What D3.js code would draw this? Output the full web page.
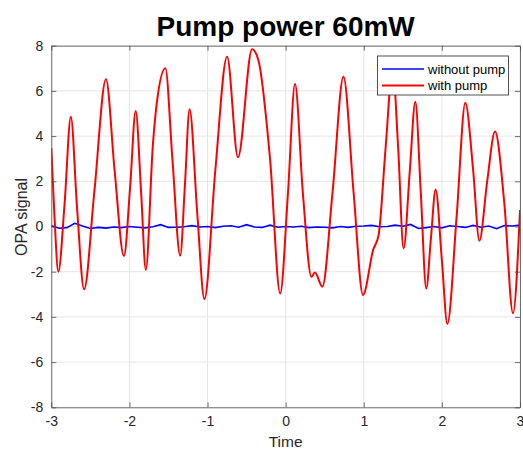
<!DOCTYPE html>
<html>
<head>
<meta charset="utf-8">
<script src="https://cdn.jsdelivr.net/npm/d3@7"></script>
<style>
  body { margin: 0; background: #fff; }
  text { font-family: "Liberation Sans", Arial, sans-serif; }
</style>
</head>
<body>
<script>
// red trace: (time, signal)
const pumpT = [-3.0, -2.96, -2.91, -2.83, -2.75, -2.67, -2.58, -2.45, -2.30, -2.19, -2.07, -1.99, -1.92, -1.85, -1.79,
  -1.70, -1.65, -1.54, -1.45, -1.35, -1.29, -1.23, -1.13, -1.04, -0.90, -0.75, -0.61, -0.43, -0.35, -0.20, -0.07,
  0.03, 0.12, 0.22, 0.33, 0.375, 0.47, 0.60, 0.74, 0.87, 0.99, 1.12, 1.19, 1.28, 1.37, 1.44, 1.51, 1.59, 1.66,
  1.73, 1.80, 1.86, 1.92, 2.00, 2.07, 2.19, 2.30, 2.40, 2.48, 2.58, 2.68, 2.80, 2.91, 3.0];
const pumpY = [3.46, 0.5, -2.0, 1.0, 4.86, 0.8, -2.78, 1.5, 6.51, 2.5, -1.31, 1.8, 5.11, 1.5, -1.92,
  3.6, 5.45, 7.0, 3.0, -1.29, 1.8, 5.19, 0.5, -3.21, 2.5, 7.51, 3.06, 7.84, 7.37, 3.0, -2.96,
  1.5, 6.3, 1.5, -2.22, -2.04, -2.66, 1.5, 6.63, 1.5, -3.03, -1.04, -0.38, 3.5, 7.0, 3.5, -0.97, 2.5, 5.52,
  1.5, -2.74, -0.5, 1.64, -1.5, -4.31, 0.5, 5.48, 2.5, -0.63, 2.0, 4.2, 1.0, -3.84, 0.73];

// blue trace: one value every 0.1 from -3 to 3
const noPumpT = d3.range(61).map(i => -3 + i * 0.1);
const noPumpY = [0.03, -0.08, -0.05, 0.14, 0.02, -0.09, -0.04, -0.07, -0.02, -0.05, 0.0, -0.03, -0.06, -0.01, 0.08,
  -0.04, -0.03, -0.01, 0.04, -0.02, 0.0, -0.05, 0.01, 0.03, -0.03, 0.08, -0.02, -0.04, 0.06, -0.03, 0.0,
  -0.02, 0.01, -0.05, -0.02, -0.03, -0.06, 0.0, -0.04, 0.01, 0.02, 0.05, -0.01, 0.0, 0.06, 0.01, 0.09, -0.09,
  -0.05, 0.0, -0.06, 0.03, 0.0, -0.04, 0.05, -0.03, 0.02, -0.1, 0.04, 0.02, 0.06];

const xTicks = [-3, -2, -1, 0, 1, 2, 3];
const yTicks = [-8, -6, -4, -2, 0, 2, 4, 6, 8];
const seriesNames = ["without pump", "with pump"];
const seriesColors = ["#0000ff", "#ff0000"];

const W = 523, H = 450;
const mLeft = 51.3, mRight = 520, mTop = 45.7, mBottom = 407.3;

const svg = d3.select("body").append("svg")
  .attr("width", W).attr("height", H);

const x = d3.scaleLinear().domain([-3, 3]).range([mLeft, mRight]);
const y = d3.scaleLinear().domain([-8, 8]).range([mBottom, mTop]);

// grid
svg.append("g").selectAll("line").data(xTicks).enter().append("line")
  .attr("x1", d => x(d)).attr("x2", d => x(d))
  .attr("y1", mTop).attr("y2", mBottom)
  .attr("stroke", "#e5e5e5").attr("stroke-width", 1);
svg.append("g").selectAll("line").data(yTicks).enter().append("line")
  .attr("x1", mLeft).attr("x2", mRight)
  .attr("y1", d => y(d)).attr("y2", d => y(d))
  .attr("stroke", "#e5e5e5").attr("stroke-width", 1);

// traces
svg.append("clipPath").attr("id", "clip")
  .append("rect").attr("x", mLeft).attr("y", mTop)
  .attr("width", mRight - mLeft).attr("height", mBottom - mTop);

const line = d3.line()
  .x(d => x(d[0])).y(d => y(d[1]))
  .curve(d3.curveMonotoneX);

svg.append("path")
  .datum(d3.zip(noPumpT, noPumpY))
  .attr("d", d3.line().x(d => x(d[0])).y(d => y(d[1])))
  .attr("fill", "none").attr("stroke", seriesColors[0])
  .attr("stroke-width", 1.6)
  .attr("clip-path", "url(#clip)");

svg.append("path")
  .datum(d3.zip(pumpT, pumpY))
  .attr("d", line)
  .attr("fill", "none").attr("stroke", seriesColors[1])
  .attr("stroke-width", 2)
  .attr("clip-path", "url(#clip)");

// axes (MATLAB style box, ticks inside)
const axisColor = "#262626";
const fmt = d => String(d);
const xAxis = svg.append("g").attr("transform", `translate(0,${mBottom})`)
  .call(d3.axisBottom(x).tickValues(xTicks).tickFormat(fmt).tickSizeInner(-5).tickSizeOuter(0).tickPadding(9));
const yAxis = svg.append("g").attr("transform", `translate(${mLeft},0)`)
  .call(d3.axisLeft(y).tickValues(yTicks).tickFormat(fmt).tickSizeInner(-5).tickSizeOuter(0).tickPadding(8));
const xTop = svg.append("g").attr("transform", `translate(0,${mTop})`)
  .call(d3.axisTop(x).tickValues(xTicks).tickSizeInner(-5).tickSizeOuter(0).tickFormat(""));
const yRight = svg.append("g").attr("transform", `translate(${mRight},0)`)
  .call(d3.axisRight(y).tickValues(yTicks).tickSizeInner(-5).tickSizeOuter(0).tickFormat(""));

[xAxis, yAxis, xTop, yRight].forEach(g => {
  g.selectAll("path, line").attr("stroke", "#4d4d4d").attr("stroke-width", 0.8);
  g.selectAll("text").attr("fill", axisColor)
    .style("font-family", "Liberation Sans, Arial, sans-serif").style("font-size", "14px");
});

// labels
svg.append("text")
  .attr("x", (mLeft + mRight) / 2).attr("y", 36)
  .attr("text-anchor", "middle")
  .style("font-size", "28px").style("font-weight", "bold")
  .attr("fill", "#000")
  .text("Pump power 60mW");

svg.append("text")
  .attr("x", (mLeft + mRight) / 2).attr("y", 447)
  .attr("text-anchor", "middle")
  .style("font-size", "15.5px").attr("fill", axisColor)
  .text("Time");

svg.append("text")
  .attr("transform", "translate(27,217) rotate(-90)")
  .attr("text-anchor", "middle")
  .style("font-size", "16px").attr("fill", axisColor)
  .text("OPA signal");

// legend
const lg = svg.append("g");
lg.append("rect")
  .attr("x", 377.5).attr("y", 56).attr("width", 131).attr("height", 39)
  .attr("fill", "#fff").attr("stroke", axisColor).attr("stroke-width", 0.8);
seriesNames.forEach((name, i) => {
  const yy = 69 + i * 16.5;
  lg.append("line")
    .attr("x1", 382).attr("x2", 424).attr("y1", yy).attr("y2", yy)
    .attr("stroke", seriesColors[i]).attr("stroke-width", i === 0 ? 1.6 : 2);
  lg.append("text")
    .attr("x", 428).attr("y", yy + 4.5)
    .style("font-size", "13px").attr("fill", "#000")
    .text(name);
});
</script>
</body>
</html>
